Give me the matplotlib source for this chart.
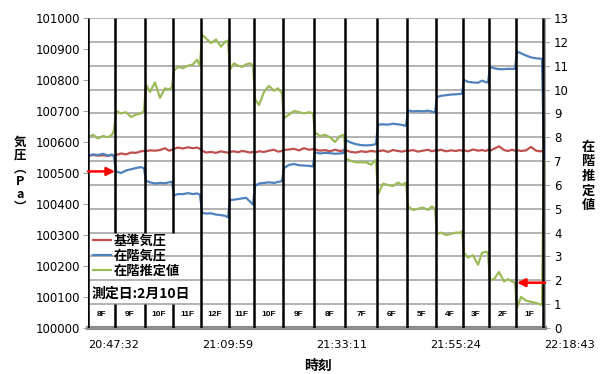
import numpy as np
import matplotlib.pyplot as plt
import matplotlib.transforms as mtransforms
from matplotlib.lines import Line2D

JP = ['Noto Sans CJK JP', 'DejaVu Sans']

# logger sample index (one step per reading)
t = [0, 5, 10, 15, 20, 24, 26,
     28, 33, 38, 43, 48, 53, 56,
     58, 62, 67, 72, 77, 81, 84,
     86, 90, 95, 100, 105, 109, 112,
     114, 118, 123, 128, 133, 137, 140,
     142, 146, 150, 154, 158, 162, 165,
     167, 171, 176, 181, 186, 190, 194,
     196, 201, 206, 211, 216, 221, 225,
     227, 232, 237, 242, 247, 252, 256,
     258, 263, 268, 273, 278, 283, 288,
     290, 295, 300, 305, 310, 314, 318,
     320, 325, 330, 335, 340, 344, 347,
     349, 353, 358, 363, 368, 372, 374,
     376, 380, 385, 390, 394, 398, 400,
     402, 406, 411, 416, 420, 424, 427,
     429, 433, 438, 443, 448, 452, 454,
     456]

# reference barometer (Pa)
base_pa = [100555, 100558, 100556, 100557, 100555, 100558, 100556,
           100558, 100563, 100560, 100566, 100565, 100570, 100571,
           100570, 100573, 100572, 100574, 100580, 100572, 100575,
           100578, 100582, 100579, 100583, 100580, 100582, 100578,
           100572, 100566, 100568, 100565, 100570, 100567, 100566,
           100568, 100570, 100567, 100571, 100569, 100566, 100568,
           100566, 100570, 100568, 100572, 100575, 100569, 100571,
           100574, 100576, 100578, 100573, 100580, 100575, 100577,
           100576, 100572, 100574, 100570, 100575, 100571, 100573,
           100573, 100568, 100566, 100570, 100568, 100571, 100569,
           100570, 100573, 100568, 100574, 100571, 100569, 100572,
           100571, 100574, 100569, 100572, 100575, 100570, 100573,
           100572, 100575, 100570, 100573, 100571, 100574, 100572,
           100573, 100570, 100576, 100572, 100574, 100571, 100575,
           100572, 100578, 100586, 100574, 100571, 100575, 100572,
           100574, 100571, 100573, 100584, 100572, 100570, 100571,
           100568]

# barometer carried through the floors (Pa)
floor_pa = [100555, 100560, 100558, 100562, 100556, 100560, 100552,
            100505, 100500, 100508, 100512, 100516, 100519, 100515,
            100475, 100470, 100466, 100468, 100467, 100470, 100472,
            100428, 100432, 100432, 100435, 100432, 100434, 100430,
            100372, 100369, 100370, 100366, 100364, 100362, 100357,
            100413, 100414, 100416, 100418, 100420, 100408, 100398,
            100458, 100466, 100468, 100470, 100468, 100471, 100474,
            100516, 100526, 100529, 100525, 100524, 100523, 100521,
            100567, 100563, 100565, 100564, 100562, 100563, 100565,
            100606, 100598, 100593, 100590, 100589, 100590, 100593,
            100656, 100657, 100656, 100659, 100657, 100655, 100652,
            100702, 100699, 100700, 100699, 100701, 100698, 100695,
            100745, 100749, 100751, 100753, 100754, 100755, 100756,
            100800, 100794, 100792, 100791, 100798, 100793, 100792,
            100843, 100838, 100835, 100835, 100836, 100836, 100836,
            100892, 100886, 100879, 100873, 100870, 100869, 100868,
            100548]

# estimated floor number
floor_est = [8.0, 8.1, 7.95, 8.05, 8.0, 8.1, 8.3,
             9.1, 9.0, 9.05, 8.85, 8.95, 9.0, 9.1,
             10.2, 9.9, 10.3, 9.65, 10.05, 10.0, 10.1,
             10.8, 10.95, 10.9, 11.0, 11.05, 11.25, 11.0,
             12.3, 12.15, 11.95, 12.1, 11.8, 12.0, 12.05,
             10.85, 11.1, 11.0, 10.95, 11.05, 11.1, 11.0,
             9.6, 9.35, 9.9, 10.15, 9.95, 10.05, 9.85,
             8.8, 8.95, 9.1, 9.05, 9.0, 9.05, 9.0,
             8.2, 8.05, 8.1, 8.0, 7.8, 8.05, 8.1,
             7.1, 7.0, 6.95, 6.95, 6.95, 6.85, 7.05,
             5.6, 6.05, 6.0, 5.95, 6.1, 6.0, 6.1,
             5.1, 4.95, 5.0, 5.05, 4.95, 5.1, 5.0,
             3.95, 4.0, 3.9, 3.95, 4.0, 4.0, 4.05,
             3.15, 2.95, 3.05, 2.65, 3.15, 3.2, 3.15,
             2.0, 2.05, 2.35, 1.95, 2.05, 1.95, 1.9,
             0.85, 1.3, 1.15, 1.1, 1.05, 1.0, 0.95,
             8.0]

# floor changes (sample index) and the floor held in between
floor_edges = [0, 27, 57, 85, 113, 141, 166, 195, 226, 257, 289, 319, 348,
               375, 401, 428, 455]
floor_names = ['8F', '9F', '10F', '11F', '12F', '11F', '10F', '9F', '8F',
               '7F', '6F', '5F', '4F', '3F', '2F', '1F']

time_ticks = [0, 114, 228, 342, 456]
time_labels = ['20:47:32', '21:09:59', '21:33:11', '21:55:24', '22:18:43']

series_names = ['基準気圧', '在階気圧', '在階推定値']
RED, BLUE, GREEN = '#C0504D', '#4F81BD', '#9BBB59'
GRID = '#a6a6a6'

fig = plt.figure(figsize=(6.05, 3.74), dpi=100)
ax = fig.add_axes([88 / 605, 46 / 374, 457 / 605, 310 / 374])
ax2 = ax.twinx()
ax.set_zorder(ax2.get_zorder() + 1)
ax.patch.set_visible(False)

ax.set_xlim(0, 457)
ax.set_ylim(100000, 101000)
ax2.set_ylim(0, 13)

# gridlines follow the right-hand floor scale
for v in range(1, 14):
    ax2.axhline(v, color=GRID, lw=1.2, zorder=0)

ax2.plot(t, floor_est, color=GREEN, lw=1.6, zorder=2)
ax.plot(t, base_pa, color=RED, lw=1.6, zorder=2)
ax.plot(t, floor_pa, color=BLUE, lw=1.6, zorder=2)

# x in samples, y in floor units
mix = mtransforms.blended_transform_factory(ax.transData, ax2.transData)

# floor change markers, left open behind the legend block
for i, x in enumerate(floor_edges):
    if 0 < x < 113:
        ax.vlines(x, 0, 1, color='black', lw=1.8, transform=mix, zorder=4)
        ax.vlines(x, 4, 13, color='black', lw=1.8, transform=mix, zorder=4)
    else:
        ax.vlines(x, 0, 13, color='black', lw=1.8, transform=mix, zorder=4)

for a, b, name in zip(floor_edges[:-1], floor_edges[1:], floor_names):
    ax.text((a + b) / 2, 0.55, name, transform=mix, ha='center', va='center',
            fontsize=6, fontweight='bold', family='Liberation Sans', zorder=5)

# arrows onto the start of 9F and the end of 2F
i9 = t.index(28)
ax.annotate('', xy=(27, floor_pa[i9]), xytext=(0, floor_pa[i9]),
            arrowprops=dict(arrowstyle='-|>', color='red', lw=1.8,
                            mutation_scale=12, shrinkA=0, shrinkB=0),
            zorder=6)
i2 = t.index(427)
ax.annotate('', xy=(429, floor_est[i2]), xytext=(457, floor_est[i2]),
            xycoords=mix, textcoords=mix,
            arrowprops=dict(arrowstyle='-|>', color='red', lw=1.8,
                            mutation_scale=12, shrinkA=0, shrinkB=0),
            zorder=6, annotation_clip=False)

# axes styling
for s in ['top', 'right']:
    ax.spines[s].set_visible(False)
for s in ['top', 'left', 'bottom']:
    ax2.spines[s].set_visible(False)
ax.spines['left'].set_color(GRID)
ax.spines['bottom'].set_color('#8c8c8c')
ax.spines['bottom'].set_linewidth(3)
ax2.spines['right'].set_color(GRID)

ax.set_yticks(np.arange(100000, 101001, 100))
ax.tick_params(axis='y', length=3.5, color=GRID, labelsize=8.5, pad=2)
ax2.set_yticks(range(14))
ax2.tick_params(axis='y', length=3.5, color=GRID, labelsize=8.5, pad=3)

ax.set_xticks(time_ticks, time_labels)
ax.tick_params(axis='x', length=0, labelsize=8.2, pad=8.5)
for lab in ax.get_xticklabels():
    lab.set_ha('left')

handles = [Line2D([], [], color=c, lw=1.6) for c in (RED, BLUE, GREEN)]
ax.legend(handles, series_names, loc='upper left',
          bbox_to_anchor=(93 / 605, 1 - 234 / 374),
          bbox_transform=fig.transFigure, frameon=False,
          prop=dict(family=JP, weight='bold', size=9.5),
          handlelength=1.4, handletextpad=0.15, labelspacing=0.05,
          borderpad=0, borderaxespad=0)

fig.text(92 / 605, 1 - 294 / 374, '測定日:2月10日', ha='left', va='center',
         family=JP, fontweight='bold', fontsize=10)

fig.text(20 / 605, 1 - 175 / 374, '気\n圧\n︵\nP\na\n︶', ha='center',
         va='center', family=JP, fontweight='bold', fontsize=9,
         linespacing=1.0)
fig.text(588 / 605, 1 - 176 / 374, '在\n階\n推\n定\n値', ha='center',
         va='center', family=JP, fontweight='bold', fontsize=9.5,
         linespacing=1.05)
fig.text(318 / 605, 1 - 366 / 374, '時刻', ha='center', va='center',
         family=JP, fontweight='bold', fontsize=10)

fig.savefig('out.png', dpi=100)
